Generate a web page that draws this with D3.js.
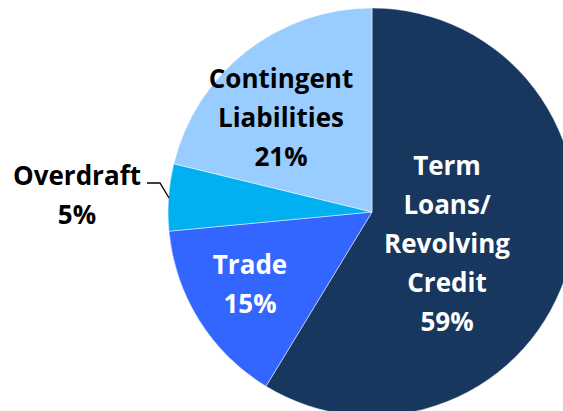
<!DOCTYPE html>
<html>
<head>
<meta charset="utf-8">
<script src="https://cdn.jsdelivr.net/npm/d3@7"></script>
<style>
  body { margin: 0; background: #fff; }
  svg { display: block; }
  text { font-family: "Open Sans", Lato, sans-serif; font-weight: bold; }
</style>
</head>
<body>
<script>
const categories = ["Term Loans/ Revolving Credit", "Trade", "Overdraft", "Contingent Liabilities"];
const values = [58.7, 14.8, 5.3, 21.2];
const nameLines = [
    ["Term", "Loans/", "Revolving", "Credit"],
    ["Trade"],
    ["Overdraft"],
    ["Contingent", "Liabilities"]
];
const colors = ["#17375e", "#3366ff", "#00b0f0", "#99ccff"];

const width = 563, height = 411;
const cx = 372, cy = 212, radius = 204;
// label block centres, relative to the pie centre
const labelPos = [[75, 32], [-122, 72], [-295, -17], [-91, -94]];
const lineGap = 39;

const svg = d3.select("body").append("svg")
    .attr("width", width)
    .attr("height", height);

const g = svg.append("g")
    .attr("transform", "translate(" + cx + "," + cy + ")");

const pie = d3.pie().sort(null).value(d => d);
const arc = d3.arc().innerRadius(0).outerRadius(radius);
const arcs = pie(values);
const total = d3.sum(values);

g.selectAll("path")
    .data(arcs)
    .enter().append("path")
    .attr("d", arc)
    .attr("fill", (d, i) => colors[i])
    .attr("stroke", "#ffffff")
    .attr("stroke-opacity", 0.6)
    .attr("stroke-width", 0.8);

// leader line for the small slice
g.append("polyline")
    .attr("points", [[-225, -29], [-212, -29], [-203, -14]].map(p => p.join(",")).join(" "))
    .attr("fill", "none")
    .attr("stroke", "#000")
    .attr("stroke-width", 1.3);

const labels = g.selectAll("g.label")
    .data(arcs)
    .enter().append("g")
    .attr("class", "label")
    .attr("transform", (d, i) => "translate(" + labelPos[i][0] + "," + labelPos[i][1] + ")");

labels.each(function(d, i) {
    const lines = nameLines[i].concat([Math.round(d.value / total * 100) + "%"]);
    const t = d3.select(this).append("text")
        .attr("text-anchor", "middle")
        .attr("font-size", 26)
        .attr("fill", (i === 0 || i === 1) ? "#ffffff" : "#000000");
    lines.forEach((ln, j) => {
        t.append("tspan")
            .attr("x", 0)
            .attr("y", (j - (lines.length - 1) / 2) * lineGap + 9)
            .text(ln);
    });
});
</script>
</body>
</html>
